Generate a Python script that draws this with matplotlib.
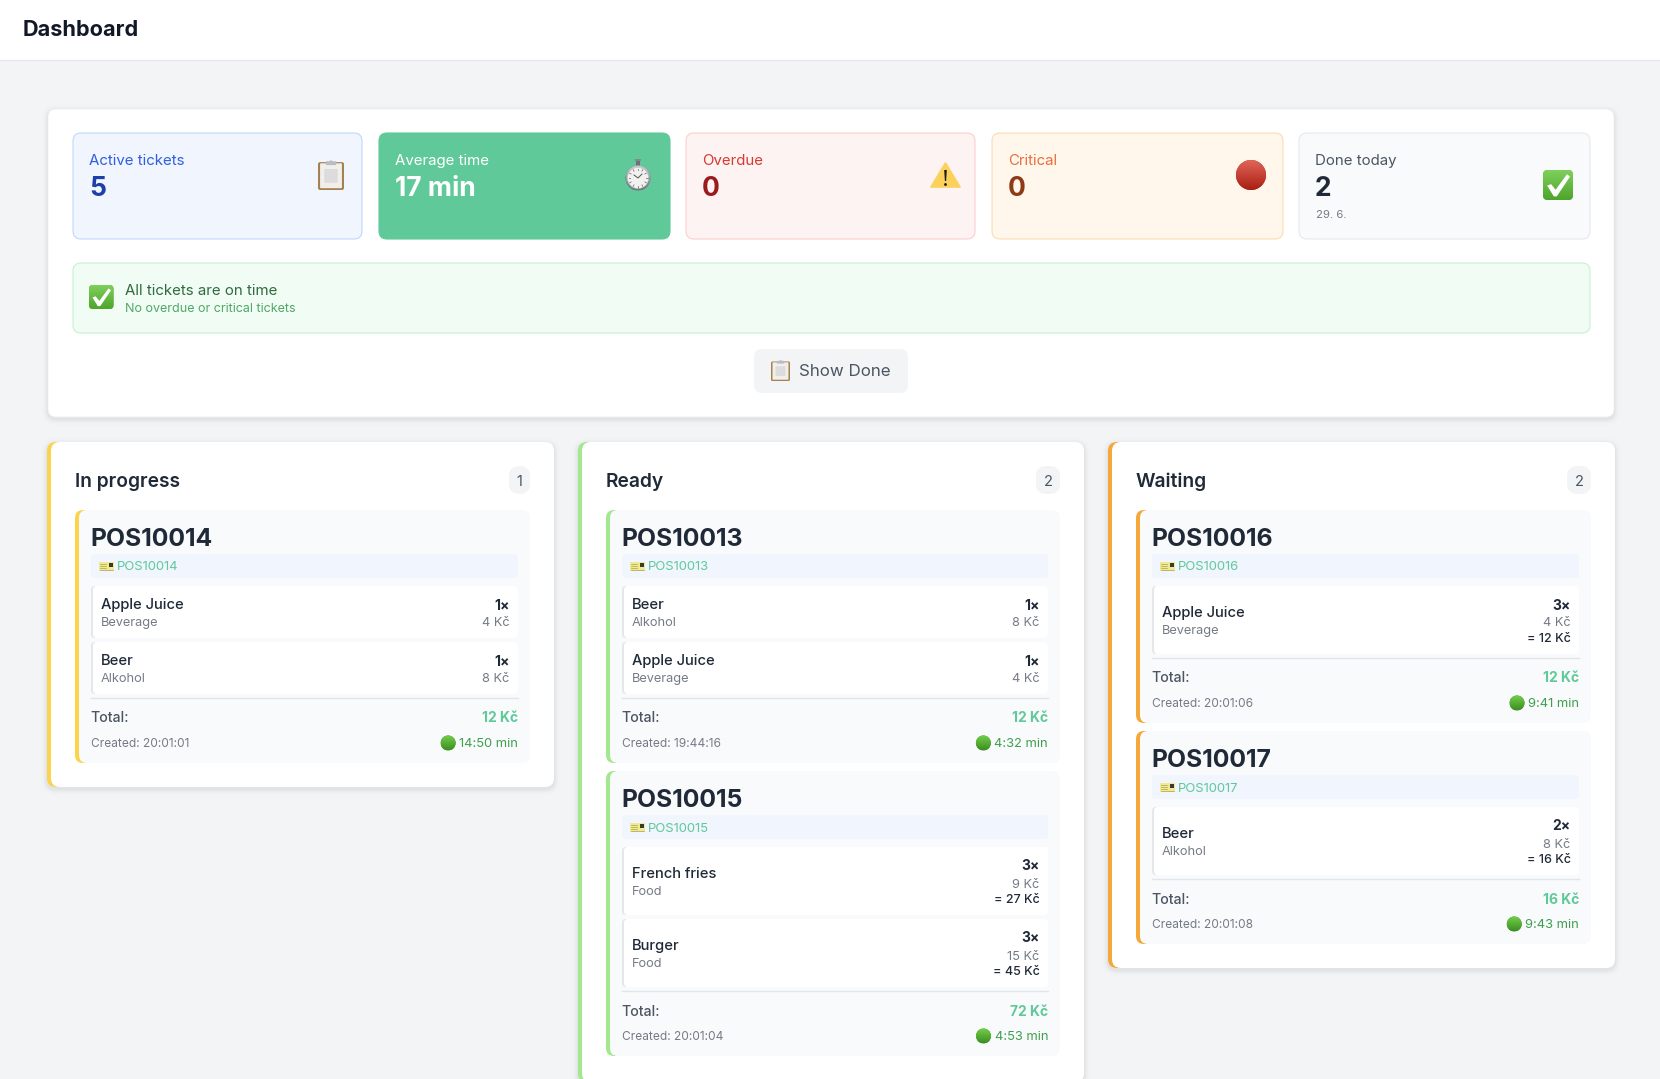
import matplotlib
matplotlib.use("Agg")
import matplotlib.pyplot as plt
import numpy as np
from matplotlib.patches import FancyBboxPatch, Circle, Polygon, Rectangle

FONT = ["Inter", "Open Sans", "DejaVu Sans"]
plt.rcParams["font.family"] = FONT

# ---------- values ----------
page_title = "Dashboard"
stat_labels = ["Active tickets", "Average time", "Overdue", "Critical", "Done today"]
stat_values = ["5", "17 min", "0", "0", "2"]
done_date = "29. 6."
banner_title = "All tickets are on time"
banner_sub = "No overdue or critical tickets"
button_label = "Show Done"

column_titles = ["In progress", "Ready", "Waiting"]
column_counts = ["1", "2", "2"]

col_ticket_ids = [["POS10014"], ["POS10013", "POS10015"], ["POS10016", "POS10017"]]
ticket_items = {
    "POS10014": [("Apple Juice", "Beverage", 1, 4), ("Beer", "Alkohol", 1, 8)],
    "POS10013": [("Beer", "Alkohol", 1, 8), ("Apple Juice", "Beverage", 1, 4)],
    "POS10015": [("French fries", "Food", 3, 9), ("Burger", "Food", 3, 15)],
    "POS10016": [("Apple Juice", "Beverage", 3, 4)],
    "POS10017": [("Beer", "Alkohol", 2, 8)],
}
ticket_created = {"POS10014": "20:01:01", "POS10013": "19:44:16", "POS10015": "20:01:04",
                  "POS10016": "20:01:06", "POS10017": "20:01:08"}
ticket_elapsed = {"POS10014": "14:50", "POS10013": "4:32", "POS10015": "4:53",
                  "POS10016": "9:41", "POS10017": "9:43"}

# ---------- styling ----------
BG = "#f3f4f6"
INK = "#1f2937"
MID = "#4b5563"
MUTED = "#757b86"
ACCENT = "#5fc999"
stat_fill = ["#f0f5fe", "#60c999", "#fdf3f2", "#fff6ec", "#f9fafb"]
stat_edge = ["#bfd8fb", "#60c999", "#fbd0ce", "#fcdcb0", "#e7e9ed"]
stat_label_col = ["#2f5fe0", "#ffffff", "#d63a30", "#e8703a", "#4b5563"]
stat_value_col = ["#1e3fa8", "#ffffff", "#991b1b", "#8f3a16", "#1f2937"]
stat_x = [(73, 362), (379, 670), (686, 975), (992, 1283), (1299, 1590)]
col_x = [(47, 554), (578, 1084), (1108, 1615)]
col_accent = ["#fcd34d", "#a3e88f", "#f5a83a"]
col_bottom = [787, 1082, 968]

fig = plt.figure(figsize=(16.6, 10.79), dpi=100, facecolor=BG)
ax = fig.add_axes([0, 0, 1, 1])
ax.set_xlim(0, 1660)
ax.set_ylim(1079, 0)
ax.axis("off")


def rrect(x0, y0, x1, y1, r, fc, ec="none", lw=0.0, z=1, alpha=None):
    p = FancyBboxPatch((x0 + r, y0 + r), x1 - x0 - 2 * r, y1 - y0 - 2 * r,
                       boxstyle=f"round,pad={r},rounding_size={r}",
                       fc=fc, ec=ec, lw=lw, zorder=z, alpha=alpha)
    ax.add_patch(p)
    return p


def shadow(x0, y0, x1, y1, r, z=0.5):
    for i, a in zip([6, 4, 3, 2, 1], [0.006, 0.010, 0.012, 0.016, 0.020]):
        rrect(x0 - i, y0 - i + 2, x1 + i, y1 + i + 2, r + i, "#000000", z=z, alpha=a)


def T(x, y, s, size, color, weight="normal", ha="left", z=10):
    return ax.text(x, y, s, fontsize=size, color=color, fontweight=weight, ha=ha,
                   va="center_baseline", zorder=z)


def vgrad(x0, y0, x1, y1, top, bottom, clip, z):
    c0, c1 = np.array(matplotlib.colors.to_rgb(top)), np.array(matplotlib.colors.to_rgb(bottom))
    t = np.linspace(0, 1, 64)[:, None, None]
    img = (1 - t) * c0[None, None, :] + t * c1[None, None, :]
    im = ax.imshow(img, extent=(x0, x1, y1, y0), aspect="auto", zorder=z, interpolation="bilinear")
    im.set_clip_path(clip)
    ax.set_xlim(0, 1660)
    ax.set_ylim(1079, 0)


def ball(cx, cy, r, top, bottom, z=8):
    c = Circle((cx, cy), r, fc=bottom, ec="none", zorder=z)
    ax.add_patch(c)
    vgrad(cx - r, cy - r, cx + r, cy + r, top, bottom, c, z + 0.1)


def check_icon(x0, y0, x1, y1, z=8):
    w = x1 - x0
    p = rrect(x0, y0, x1, y1, w * 0.16, "#55ad35", z=z)
    vgrad(x0, y0, x1, y1, "#7fd05a", "#4ea42c", p, z + 0.1)
    h = y1 - y0
    ax.add_patch(Polygon([(x0 + w * .14, y0 + h * .52), (x0 + w * .27, y0 + h * .47), (x0 + w * .42, y0 + h * .66),
                          (x0 + w * .80, y0 + h * .14), (x0 + w * .90, y0 + h * .22), (x0 + w * .46, y0 + h * .88),
                          (x0 + w * .36, y0 + h * .88)], fc="white", ec="none", zorder=z + 0.2))


def clipboard_icon(x0, y0, x1, y1, z=8):
    w, h = x1 - x0, y1 - y0
    rrect(x0, y0 + h * .07, x1, y1, w * .08, "#a5814f", z=z)
    rrect(x0 + w * .08, y0 + h * .11, x1 - w * .08, y1 - h * .06, w * .03, "#f1efeb", z=z + .1)
    rrect(x0 + w * .24, y0 + h * .30, x1 - w * .24, y1 - h * .24, w * .02, "#dcdcdc", z=z + .2)
    rrect(x0 + w * .30, y0 + h * .04, x1 - w * .30, y0 + h * .17, w * .04, "#b9bcc0", z=z + .3)
    ax.add_patch(Polygon([(x0 + w * .42, y0 + h * .05), (x0 + w * .5, y0), (x0 + w * .58, y0 + h * .05)],
                         fc="#b9bcc0", ec="none", zorder=z + .3))


def stopwatch_icon(cx, cy, r, z=8):
    ax.add_patch(Rectangle((cx - 1.6, cy - r - 5), 3.2, 5, fc="#6f7378", ec="none", zorder=z))
    ax.add_patch(Rectangle((cx - 3, cy - r - 6.5), 6, 2.4, fc="#85898e", ec="none", zorder=z))
    ball(cx, cy, r, "#c9ced3", "#6f7580", z=z + .1)
    ax.add_patch(Circle((cx, cy), r - 2, fc="#f1f1ef", ec="#c8c8c8", lw=.4, zorder=z + .4))
    for a in np.arange(0, 360, 30):
        ca, sa = np.cos(np.radians(a)), np.sin(np.radians(a))
        ax.plot([cx + ca * (r - 4.5), cx + ca * (r - 3)], [cy + sa * (r - 4.5), cy + sa * (r - 3)],
                color="#777777", lw=.6, zorder=z + .5)
    ax.plot([cx - 4, cx, cx + 4], [cy - 3, cy, cy - 4], color="#555555", lw=.7, zorder=z + .6)


def warning_icon(x0, y0, x1, y1, z=8):
    cx = (x0 + x1) / 2
    ax.add_patch(Polygon([(cx, y0), (x1, y1), (x0, y1)], closed=True, fc="#fbd15b", ec="#fbd15b", lw=1.2,
                         joinstyle="round", zorder=z))
    ax.add_patch(Polygon([(cx - 1.3, y0 + 7), (cx + 1.3, y0 + 7), (cx + .6, y0 + 18), (cx - .6, y0 + 18)],
                         fc="#1a1a1a", ec="none", zorder=z + .1))
    ax.add_patch(Circle((cx, y0 + 21.5), 1.4, fc="#1a1a1a", ec="none", zorder=z + .1))


def ticket_icon(x0, y0, z=8):
    ax.add_patch(Rectangle((x0, y0), 15, 9, fc="#f2ea8e", ec="none", zorder=z))
    for i, dy in enumerate([1.5, 3.5, 5.5, 7.5]):
        ax.plot([x0 + .8, x0 + (7 if i < 3 else 14)], [y0 + dy, y0 + dy], color="#a8a25a", lw=.5, zorder=z + .1)
    ax.add_patch(Rectangle((x0 + 10.2, y0 + .8), 3.8, 4.2, fc="#3a3a30", ec="none", zorder=z + .1))


# ---------- header ----------
ax.add_patch(Rectangle((0, 0), 1660, 59.5, fc="white", ec="none", zorder=1))
ax.plot([0, 1660], [59.5, 59.5], color="#e5e7eb", lw=1, zorder=1.1)
T(23, 28, page_title, 15.6, "#111827", "bold")

# ---------- summary panel ----------
shadow(48, 109, 1614, 417, 8)
rrect(48, 109, 1614, 417, 8, "white", ec="#ebedf0", lw=.5)
for i, (x0, x1) in enumerate(stat_x):
    rrect(x0, 133, x1, 239, 8, stat_fill[i], ec=stat_edge[i], lw=.8, z=2)
    T(x0 + 16, 159.5, stat_labels[i], 10.8, stat_label_col[i])
    T(x0 + 16, 185.5, stat_values[i], 19, stat_value_col[i], "bold")
T(1316, 214, done_date, 8.2, MUTED)
clipboard_icon(318, 160, 344, 190)
stopwatch_icon(638, 178, 12.5)
warning_icon(931, 163, 960, 187)
ball(1251, 175, 15, "#e2655a", "#a81f12")
check_icon(1543, 170, 1573, 200)

rrect(73, 263, 1590, 333, 8, "#f1fcf4", ec="#c4f3d0", lw=.8, z=2)
check_icon(89, 285, 113.5, 309)
T(125, 289.5, banner_title, 10.8, "#2f6b3f")
T(125, 308, banner_sub, 9, "#4fa868")

rrect(754, 349, 908, 393, 8, "#f3f4f6", z=2)
clipboard_icon(771, 360, 790, 381)
T(799, 370.5, button_label, 12.2, MID)

# ---------- kanban columns ----------
for c, title in enumerate(column_titles):
    x0, x1 = col_x[c]
    bottom = col_bottom[c]
    shadow(x0, 442, x1, bottom, 9)
    rrect(x0, 442, x0 + 30, bottom, 9, col_accent[c], z=1)
    rrect(x0 + 4, 442, x1, bottom, 9, "white", z=1.1)
    cx0, cx1 = x0 + 28, x1 - 24
    T(x0 + 28, 480, title, 13.8, INK, "semibold")
    w = 21 if c == 0 else 24
    rrect(cx1 - w, 466, cx1, 494, 10.5, "#f3f4f6", z=2)
    T(cx1 - w / 2, 480, column_counts[c], 10.5, MID, ha="center")

    top = 510
    for tid in col_ticket_ids[c]:
        items = ticket_items[tid]
        heights = [52 if q == 1 else 68 for (_, _, q, _) in items]
        end = top + 76 + sum(heights) + 4 * (len(items) - 1)
        card_bottom = end + 69
        rrect(cx0, top, cx0 + 30, card_bottom, 8, col_accent[c], z=2)
        rrect(cx0 + 4, top, cx1, card_bottom, 8, "#f9fafb", z=2.1)
        sx0, sx1 = cx0 + 16, cx1 - 12
        T(sx0 - .5, top + 27, tid, 17.8, INK, "bold")
        rrect(sx0, top + 44, sx1, top + 68, 4, "#f0f5fe", z=3)
        ticket_icon(sx0 + 8, top + 52)
        T(sx0 + 26, top + 56, tid, 9.4, ACCENT)

        y = top + 76
        total = 0
        for (name, cat, qty, price), h in zip(items, heights):
            rrect(sx0, y, sx0 + 20, y + h, 4, "#e5e7eb", z=3)
            rrect(sx0 + 2, y, sx1, y + h, 4, "white", z=3.1)
            name_y = y + (17.5 if h == 52 else 25.5)
            T(sx0 + 10, name_y, name, 10.6, INK, "medium")
            T(sx0 + 10, name_y + 18, cat, 9.2, MUTED)
            T(sx1 - 8.5, y + 18, f"{qty}×", 10, INK, "bold", ha="right")
            T(sx1 - 8.5, y + 36, f"{price} Kč", 9.2, MUTED, ha="right")
            if qty > 1:
                T(sx1 - 8.5, y + 51.5, f"= {qty * price} Kč", 9, INK, "medium", ha="right")
            total += qty * price
            y += h + 4
        ax.plot([sx0, sx1], [end + 4, end + 4], color="#e2e5ea", lw=1, zorder=3)
        T(sx0 - .5, end + 23, "Total:", 10.2, MID, "medium")
        T(sx1, end + 23, f"{total} Kč", 10, ACCENT, "bold", ha="right")
        T(sx0, end + 48.5, f"Created: {ticket_created[tid]}", 8.6, MUTED)
        t = T(sx1, end + 48.5, f"{ticket_elapsed[tid]} min", 9.3, "#3f9f4f", ha="right")
        bb = t.get_window_extent(fig.canvas.get_renderer())
        ball(bb.x0 - 11, end + 49, 7.5, "#74d04a", "#3d8f22")
        top = card_bottom + 8

ax.set_xlim(0, 1660)
ax.set_ylim(1079, 0)
fig.savefig("out.png", dpi=100, facecolor=BG)
